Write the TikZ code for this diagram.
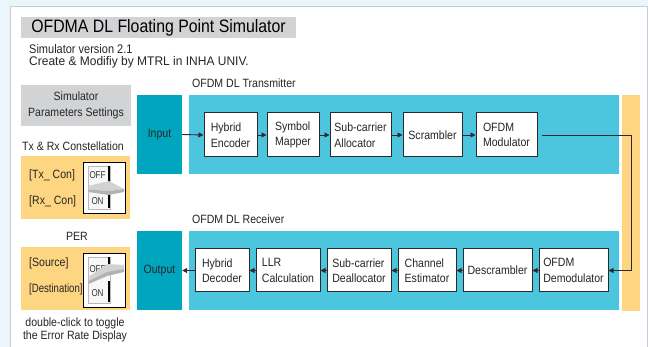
\documentclass[tikz,border=0pt]{standalone}
\usepackage{fontspec}
\setmainfont{Liberation Sans}[FakeStretch=0.88]
\usetikzlibrary{arrows.meta}
\definecolor{outerbg}{HTML}{EAF5FC}
\definecolor{panelline}{HTML}{C8CDD2}
\definecolor{titlegray}{HTML}{D2D3D5}
\definecolor{orangebox}{HTML}{FED581}
\definecolor{teal}{HTML}{00A6BD}
\definecolor{lightteal}{HTML}{4CC5DE}
\definecolor{lineclr}{HTML}{2B2B2B}
\tikzset{
  txt/.style={font=\fontsize{12}{15.5}\selectfont, inner sep=0pt, text=black!85},
  blk/.style={txt, draw=lineclr, line width=1pt, fill=white, align=left, minimum height=44pt},
  rblk/.style={blk, minimum height=43pt},
  arr/.style={-{Triangle[length=5pt,width=5pt]}, draw=lineclr, line width=0.9pt},
  swtxt/.style={font=\fontsize{10}{10}\selectfont\addfontfeature{FakeStretch=0.8}, inner sep=0pt, text=black!80}
}
\begin{document}
\begin{tikzpicture}[x=1pt,y=-1pt]
\useasboundingbox (0,0) rectangle (648,347);
\fill[outerbg] (0,0) rectangle (648,347);
\filldraw[fill=white, draw=panelline, line width=1pt] (10.5,6.5) rectangle (647.5,352);

% title
\node[fill=titlegray, minimum width=275pt, minimum height=21pt, inner sep=0pt,
      font=\fontsize{18}{20}\selectfont] (title) at (158.5,27.5) {OFDMA DL Floating Point Simulator};
\node[txt, anchor=west, font=\fontsize{12.5}{15}\selectfont] (ver) at (29,49) {Simulator version 2.1};
\node[txt, anchor=west, font=\fontsize{12.5}{15}\selectfont\addfontfeature{FakeStretch=0.96}] (cre) at (29,62.5) {Create \& Modifiy by MTRL in INHA UNIV.};

% left panel
\node[txt, fill=titlegray, minimum width=110pt, minimum height=41pt, align=center] (sps) at (76,105.5) {Simulator\\Parameters Settings};
\node[txt] (txrxl) at (73,146) {Tx \& Rx Constellation};
\node[fill=orangebox, minimum width=109pt, minimum height=63pt, inner sep=0pt] (ob1) at (75.5,187.5) {};
\node[txt, anchor=west] (txc) at (29,175) {[Tx\_ Con]};
\node[txt, anchor=west] (rxc) at (29,201.5) {[Rx\_ Con]};
\node[txt] (perl) at (77,236) {PER};
\node[fill=orangebox, minimum width=109pt, minimum height=63pt, inner sep=0pt] (ob2) at (75.5,278.5) {};
\node[txt, anchor=west] (src) at (29,263) {[Source]};
\node[txt, anchor=west, font=\fontsize{12}{15.5}\selectfont\addfontfeature{FakeStretch=0.8}] (dst) at (29,289.5) {[Destination]};
\node[txt] (dc1) at (75,323) {double-click to toggle};
\node[txt] (dc2) at (75,336) {the Error Rate Display};

% switch 1 (lever down)
\begin{scope}[shift={(83,162)}]
  \filldraw[fill=white, draw=black, line width=0.9pt] (0,0) rectangle (42,51);
  \filldraw[fill=gray!6, draw=gray!55, line width=0.6pt] (5,4) rectangle (27,47);
  \fill[black] (24.5,4.5) rectangle (27,21);
  \fill[black] (24.5,31) rectangle (27,46.5);
  \node[swtxt] (off1) at (14.5,13.5) {OFF};
  \node[swtxt] (on1) at (14.5,39) {ON};
  \fill[gray!35] (5.5,24) -- (26,19) -- (41,27) -- (26,29) -- (5.5,27.5) -- cycle;
  \fill[gray!60] (5.5,27.5) -- (26,29) -- (41,27) -- (41,30) -- (26,33) -- (5.5,30) -- cycle;
\end{scope}

% switch 2 (lever up)
\begin{scope}[shift={(83,253)}]
  \filldraw[fill=white, draw=black, line width=0.9pt] (0,0) rectangle (42,54);
  \filldraw[fill=gray!6, draw=gray!55, line width=0.6pt] (5,4) rectangle (27,50);
  \fill[black] (24.5,4.5) rectangle (27,13);
  \fill[black] (24.5,28) rectangle (27,49.5);
  \node[swtxt] (off2) at (14.5,16) {OFF};
  \node[swtxt] (on2) at (14.5,40) {ON};
  \fill[gray!35] (5.5,24) -- (24,11) -- (41,12) -- (41,16) -- (24,19) -- (5.5,28) -- cycle;
  \fill[gray!60] (5.5,28) -- (24,19) -- (41,16) -- (41,19) -- (24,23) -- (5.5,31) -- cycle;
\end{scope}

% transmitter / receiver backgrounds
\node[txt, anchor=west] (txlab) at (192,83) {OFDM DL Transmitter};
\node[txt, anchor=west] (rxlab) at (192,219) {OFDM DL Receiver};
\node[fill=teal, minimum width=45pt, minimum height=79pt, inner sep=0pt, txt] (inp) at (159.5,134.5) {Input};
\node[fill=teal, minimum width=45pt, minimum height=79pt, inner sep=0pt, txt] (outp) at (159.5,270.5) {Output};
\node[fill=lightteal, minimum width=430pt, minimum height=79pt, inner sep=0pt] (txbg) at (404,134.5) {};
\node[fill=lightteal, minimum width=430pt, minimum height=79pt, inner sep=0pt] (rxbg) at (404,270.5) {};
\node[fill=orangebox, minimum width=18pt, minimum height=216pt, inner sep=0pt] (ybar) at (631,203) {};

% transmitter blocks
\node[blk, minimum width=53pt] (henc) at (230.5,135) {Hybrid\\Encoder};
\node[blk, minimum width=52pt] (smap) at (293,135) {Symbol\\Mapper};
\node[blk, minimum width=61pt] (alloc) at (360.5,135) {Sub-carrier\\Allocator};
\node[blk, minimum width=59pt] (scr) at (432.5,135) {Scrambler};
\node[blk, minimum width=61pt] (mod) at (506.5,135) {OFDM\\Modulator};

% receiver blocks
\node[rblk, minimum width=69pt] (demod) at (573.5,270.5) {OFDM\\Demodulator};
\node[rblk, minimum width=69pt] (descr) at (497.5,270.5) {Descrambler};
\node[rblk, minimum width=58pt] (chest) at (427,270.5) {Channel\\Estimator};
\node[rblk, minimum width=64pt] (deal) at (359,270.5) {Sub-carrier\\Deallocator};
\node[rblk, minimum width=64pt] (llr) at (288,270.5) {LLR\\Calculation};
\node[rblk, minimum width=54pt] (hdec) at (222,270.5) {Hybrid\\Decoder};

% connectors
\draw[arr] (inp.east) -- (henc.west);
\draw[arr] (henc.east) -- (smap.west);
\draw[arr] (smap.east) -- (alloc.west);
\draw[arr] (alloc.east) -- (scr.west);
\draw[arr] (scr.east) -- (mod.west);
\coordinate (turn) at (631,200);
\draw[arr] ([xshift=4pt]mod.east) -- (mod.east -| turn) -- (demod.east -| turn) -- (demod.east);
\draw[arr] (demod.west) -- (descr.east);
\draw[arr] (descr.west) -- (chest.east);
\draw[arr] (chest.west) -- (deal.east);
\draw[arr] (deal.west) -- (llr.east);
\draw[arr] (llr.west) -- (hdec.east);
\draw[arr] (hdec.west) -- (outp.east);
\end{tikzpicture}
\end{document}
